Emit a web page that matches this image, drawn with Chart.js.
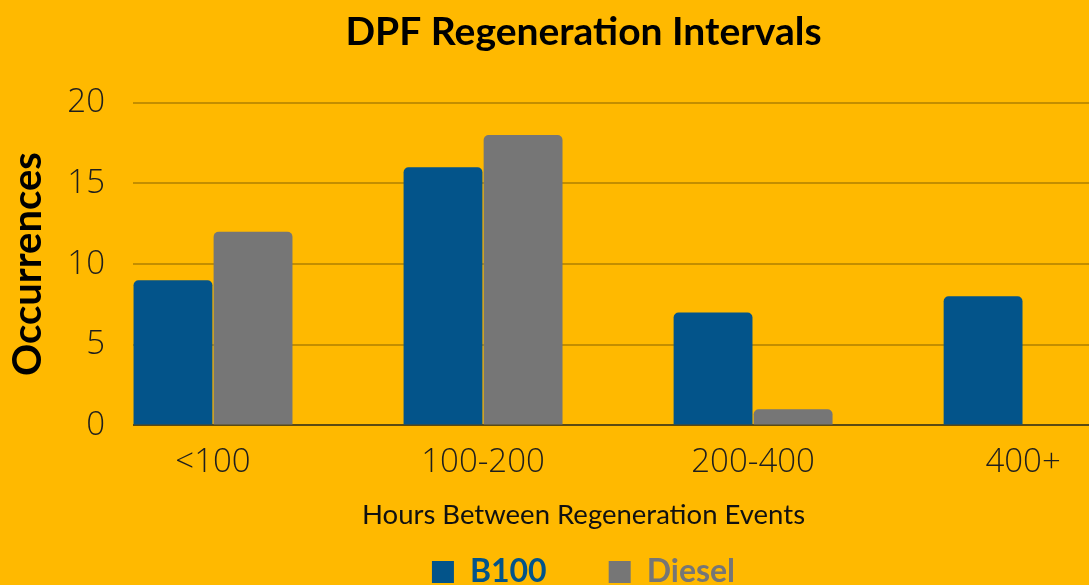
<!DOCTYPE html>
<html>
<head>
<meta charset="utf-8">
<title>DPF Regeneration Intervals</title>
<script src="https://cdn.jsdelivr.net/npm/chart.js@4.4.1/dist/chart.umd.min.js"></script>
<style>
  html, body { margin: 0; padding: 0; background: #FFB900; overflow: hidden; }
  #wrap { position: relative; width: 1089px; height: 598px; }
</style>
</head>
<body>
<div id="wrap"><canvas id="myChart"></canvas></div>
<script>
// datos
const categorias = ['<100', '100-200', '200-400', '400+'];
const b100 = [9, 16, 7, 8];
const diesel = [12, 18, 1, 0];
const yTicks = [0, 5, 10, 15, 20];

const azul = '#03548A';
const gris = '#767676';
const colores = [azul, gris];

Chart.defaults.font.family = 'Lato, "Open Sans", sans-serif';

const tickFont = { family: '"Open Sans", sans-serif', size: 33, weight: 300 };

new Chart(document.getElementById('myChart').getContext('2d'), {
    type: 'bar',
    data: {
        datasets: [{
            label: 'B100',
            data: b100.map((v, i) => ({ x: i, y: v })),
            backgroundColor: azul,
            borderWidth: 0,
            borderRadius: { topLeft: 5, topRight: 5 }
        }, {
            label: 'Diesel',
            data: diesel.map((v, i) => ({ x: i, y: v })),
            backgroundColor: gris,
            borderWidth: 0,
            borderRadius: { topLeft: 5, topRight: 5 }
        }]
    },
    options: {
        responsive: true,
        maintainAspectRatio: false,
        animation: false,
        categoryPercentage: 0.593,
        barPercentage: 0.985,
        // titulo y leyenda centrados un poco a la derecha
        layout: { padding: { left: 0, right: -78, top: 0, bottom: 0 } },
        scales: {
            x: {
                type: 'linear',
                min: -0.2963,
                max: 3.244,
                offset: false,
                grid: { display: false, offset: false },
                border: { display: false },
                ticks: {
                    stepSize: 1,
                    includeBounds: false,
                    autoSkip: false,
                    maxRotation: 0,
                    padding: 9,
                    color: '#1E1E1E',
                    font: tickFont,
                    callback: (v) => categorias[v] ?? ''
                }
            },
            y: {
                min: yTicks[0],
                max: yTicks[yTicks.length - 1],
                afterFit: (scale) => { scale.width = 133; },
                afterBuildTicks: (scale) => { scale.ticks = yTicks.map(v => ({ value: v })); },
                grid: {
                    drawTicks: false,
                    lineWidth: 2,
                    color: (ctx) => ctx.tick && ctx.tick.value === 0 ? '#5B4A12' : '#C38E00'
                },
                border: { display: false },
                ticks: {
                    padding: 28,
                    color: '#1E1E1E',
                    font: tickFont
                },
                title: {
                    display: true,
                    text: 'Occurrences',
                    color: '#000',
                    font: { family: 'Lato', size: 40, weight: 'bold' },
                    padding: { top: 4, bottom: 0 }
                }
            }
        },
        plugins: {
            title: {
                display: true,
                text: 'DPF Regeneration Intervals',
                color: '#000',
                font: { family: 'Lato', size: 39, weight: 'bold' },
                padding: { top: 9, bottom: 47 }
            },
            subtitle: {
                display: true,
                position: 'bottom',
                weight: 500,
                text: 'Hours Between Regeneration Events',
                color: '#111',
                font: { family: 'Lato', size: 27.5, weight: 'normal' },
                padding: { top: 8, bottom: -38 }
            },
            legend: {
                position: 'bottom',
                weight: 1000,
                labels: {
                    boxWidth: 22,
                    boxHeight: 22,
                    padding: 62,
                    font: { family: 'Lato', size: 32, weight: 'bold' },
                    generateLabels: function(chart) {
                        const items = Chart.defaults.plugins.legend.labels.generateLabels(chart);
                        items.forEach(it => {
                            it.fontColor = colores[it.datasetIndex];
                            it.lineWidth = 0;
                        });
                        return items;
                    }
                }
            },
            tooltip: { enabled: false }
        }
    }
});
</script>
</body>
</html>
